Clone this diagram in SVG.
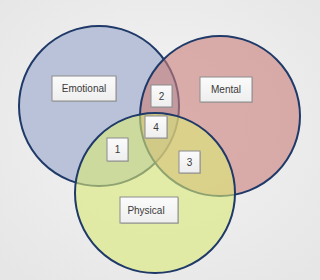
<svg xmlns="http://www.w3.org/2000/svg" width="320" height="280" viewBox="0 0 320 280">
<defs>
<radialGradient id="bg" cx="50%" cy="45%" r="70%">
<stop offset="0" stop-color="#f4f4f4"/>
<stop offset="1" stop-color="#e6e6e6"/>
</radialGradient>
<linearGradient id="boxg" x1="0" y1="0" x2="0" y2="1">
<stop offset="0" stop-color="#fbfbfb"/>
<stop offset="1" stop-color="#eeeeee"/>
</linearGradient>
</defs>
<style>
.c{stroke:#1f3a68;stroke-width:2;fill-opacity:0.6}
.b{fill:url(#boxg);stroke:#8c8c8c;stroke-width:1}
.sh{fill:#9a9a9a;opacity:0.5}
.t{font-family:"Liberation Sans",Arial,sans-serif;font-size:10px;fill:#3a3a3a;text-anchor:middle;dominant-baseline:central}
</style>
<rect width="320" height="280" fill="url(#bg)"/>
<g id="connectors"></g>
<g id="emotional-circle"><circle class="c" cx="99" cy="106" r="80" fill="#97a6cb" style="fill-opacity:1;fill:#b9c2d8"/></g>
<g id="mental-circle"><circle class="c" cx="220" cy="116" r="80" fill="#cc7f79"/></g>
<g id="physical-circle"><circle class="c" cx="155" cy="193" r="80" fill="#dae977"/></g>
<g id="emotional"><rect class="sh" x="53" y="77" width="64" height="25"/><rect class="b" x="52" y="76" width="64" height="25"/><text class="t" x="84" y="88.5">Emotional</text></g>
<g id="mental"><rect class="sh" x="201" y="78" width="52" height="25"/><rect class="b" x="200" y="77" width="52" height="25"/><text class="t" x="226" y="89.5">Mental</text></g>
<g id="n2"><rect class="sh" x="152" y="86" width="21" height="22"/><rect class="b" x="151" y="85" width="21" height="22"/><text class="t" x="161.5" y="96">2</text></g>
<g id="n4"><rect class="sh" x="146" y="117" width="22" height="22"/><rect class="b" x="145" y="116" width="22" height="22"/><text class="t" x="156" y="127">4</text></g>
<g id="n1"><rect class="sh" x="108" y="139" width="21" height="23"/><rect class="b" x="107" y="138" width="21" height="23"/><text class="t" x="117.5" y="149.5">1</text></g>
<g id="n3"><rect class="sh" x="180" y="152" width="21" height="22"/><rect class="b" x="179" y="151" width="21" height="22"/><text class="t" x="189.5" y="162">3</text></g>
<g id="physical"><rect class="sh" x="121" y="198" width="58" height="26"/><rect class="b" x="120" y="197" width="58" height="26"/><text class="t" x="146" y="210">Physical</text></g>
</svg>
